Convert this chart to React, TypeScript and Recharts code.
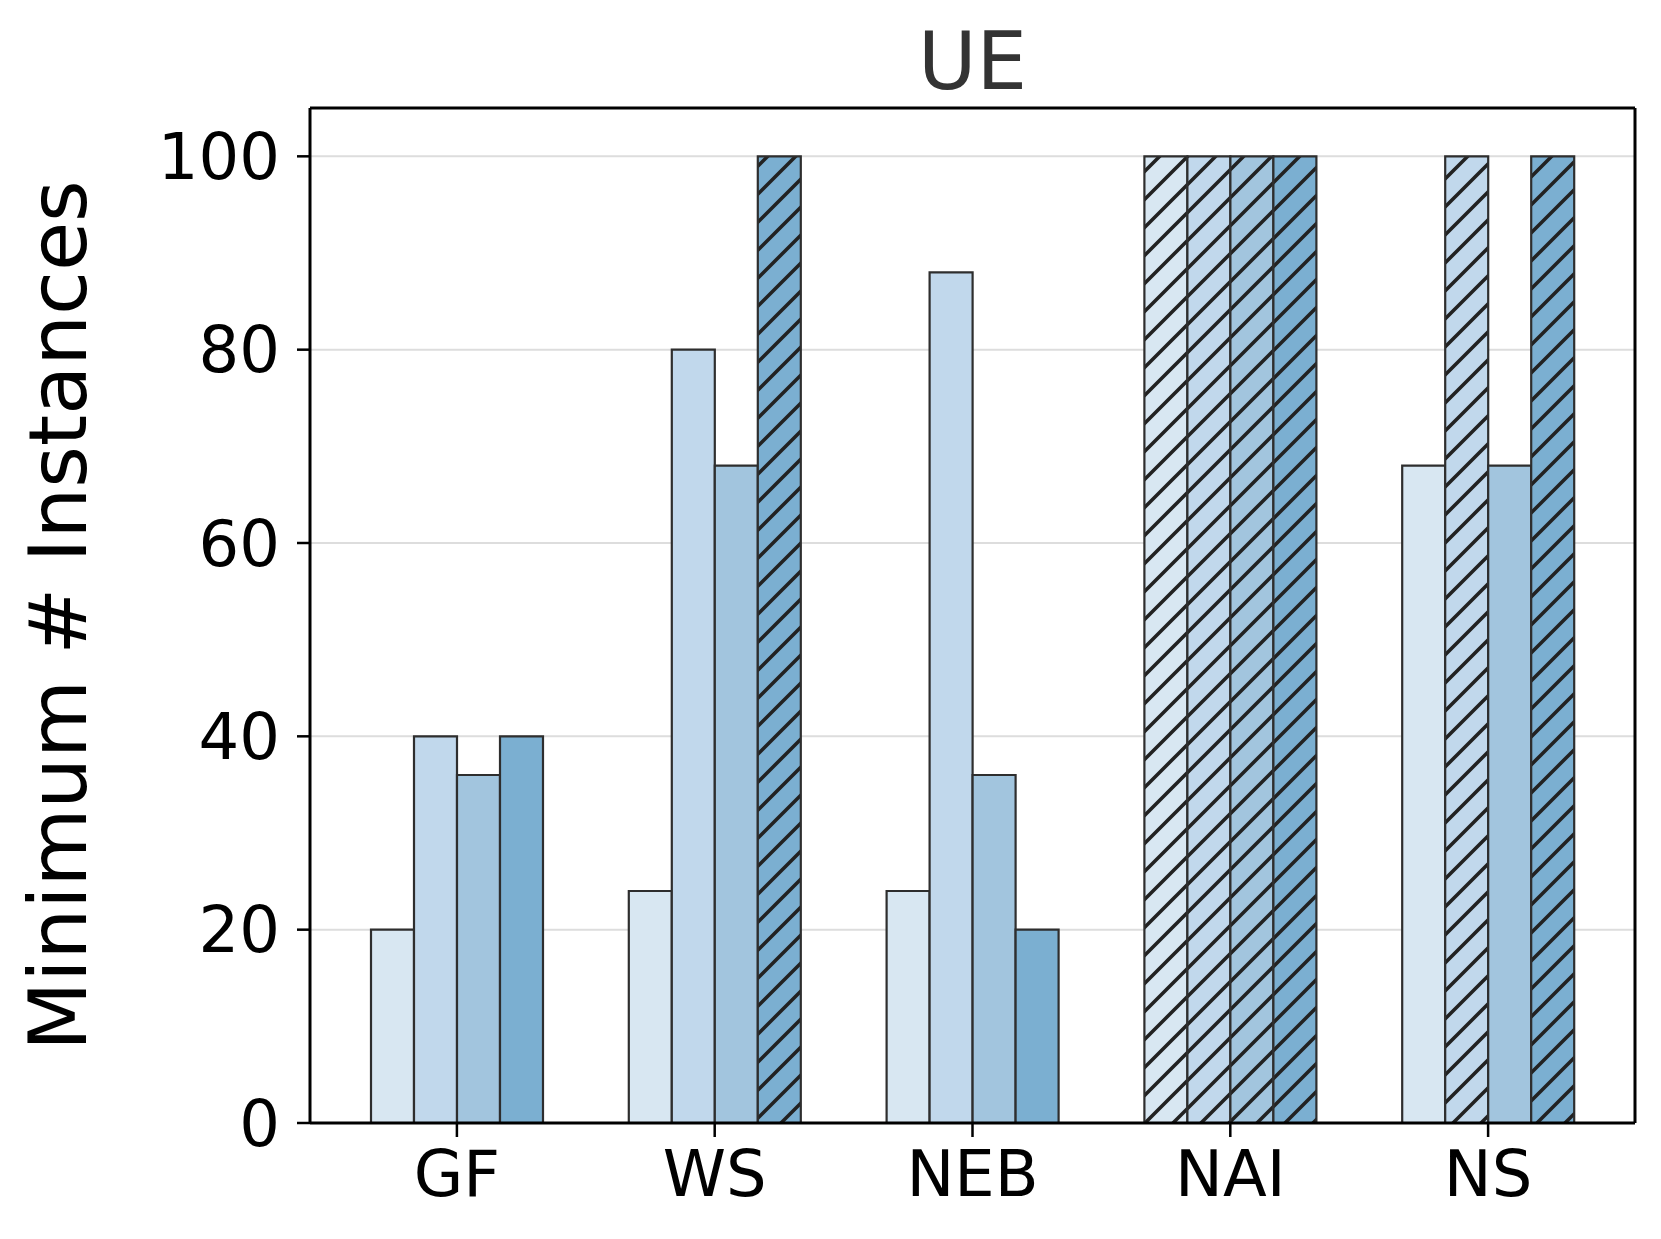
import { Bar, BarChart, CartesianGrid, Cell, XAxis, YAxis } from "recharts";

const categories = ["GF", "WS", "NEB", "NAI", "NS"];
const series1 = [20, 24, 24, 100, 68];
const series2 = [40, 80, 88, 100, 100];
const series3 = [36, 68, 36, 100, 68];
const series4 = [40, 100, 20, 100, 100];
// bars that hit the cap are drawn hatched
const capped1 = [false, false, false, true, false];
const capped2 = [false, false, false, true, true];
const capped3 = [false, false, false, true, false];
const capped4 = [false, true, false, true, true];
const yTicks = [0, 20, 40, 60, 80, 100];

const keys = ["s1", "s2", "s3", "s4"];
const colors = ["#d8e7f2", "#c1d8ec", "#a2c5de", "#7bafd1"];
const capped = [capped1, capped2, capped3, capped4];

const data = categories.map((name, i) => ({
  name,
  s1: series1[i],
  s2: series2[i],
  s3: series3[i],
  s4: series4[i],
}));

const FONT = "DejaVu Sans, sans-serif";

function YLabel({ viewBox }: any) {
  const cy = viewBox.y + viewBox.height / 2;
  const cx = viewBox.x + 58;
  return (
    <text
      x={cx}
      y={cy}
      transform={`rotate(-90 ${cx} ${cy})`}
      textAnchor="middle"
      dominantBaseline="central"
      fontSize={80}
      fontFamily={FONT}
      fill="#000"
    >
      Minimum # Instances
    </text>
  );
}

function Title({ viewBox }: any) {
  return (
    <text
      x={viewBox.x + viewBox.width / 2}
      y={viewBox.y - 18}
      textAnchor="middle"
      fontSize={80}
      fontFamily={FONT}
      fill="#333333"
    >
      UE
    </text>
  );
}

export default function App() {
  return (
    <div style={{ position: "absolute", left: 0, top: 0, width: 1661, height: 1239, background: "#fff" }}>
      <BarChart
        width={1661}
        height={1239}
        data={data}
        margin={{ top: 107, right: 25, bottom: 0, left: 0 }}
        barGap={0}
        barSize={43}
      >
        <defs>
          {colors.map((c, i) => (
            <pattern key={i} id={`hatch-${i}`} patternUnits="userSpaceOnUse" width={28} height={28}>
              <rect width={28} height={28} fill={c} />
              <path d="M-7,7 L7,-7 M0,28 L28,0 M21,35 L35,21" stroke="#222222" strokeWidth={3.6} />
            </pattern>
          ))}
        </defs>
        <CartesianGrid vertical={false} stroke="#dddddd" strokeWidth={2} />
        <XAxis
          dataKey="name"
          padding={{ left: 18, right: 18 }}
          height={116}
          axisLine={{ stroke: "#000", strokeWidth: 3 }}
          tickLine={{ stroke: "#000", strokeWidth: 2.5 }}
          tickSize={14}
          tickMargin={14}
          tick={{ fill: "#000", fontSize: 64, fontFamily: FONT }}
          interval={0}
        />
        <XAxis
          xAxisId="top"
          orientation="top"
          dataKey="name"
          height={1}
          tick={false}
          tickLine={false}
          axisLine={{ stroke: "#000", strokeWidth: 3 }}
          label={<Title />}
        />
        <YAxis
          width={310}
          domain={[0, 105]}
          ticks={yTicks}
          allowDataOverflow
          axisLine={{ stroke: "#000", strokeWidth: 3 }}
          tickLine={{ stroke: "#000", strokeWidth: 2.5 }}
          tickSize={13}
          tickMargin={17}
          tick={{ fill: "#000", fontSize: 64, fontFamily: FONT }}
          label={<YLabel />}
        />
        <YAxis
          yAxisId="right"
          orientation="right"
          width={1}
          domain={[0, 105]}
          ticks={yTicks}
          tick={false}
          tickLine={false}
          axisLine={{ stroke: "#000", strokeWidth: 3 }}
        />
        {keys.map((k, si) => (
          <Bar
            key={k}
            dataKey={k}
            fill={colors[si]}
            stroke="#2e2e2e"
            strokeWidth={2.2}
            isAnimationActive={false}
          >
            {data.map((_, i) => (
              <Cell key={i} fill={capped[si][i] ? `url(#hatch-${si})` : colors[si]} />
            ))}
          </Bar>
        ))}
      </BarChart>
    </div>
  );
}
